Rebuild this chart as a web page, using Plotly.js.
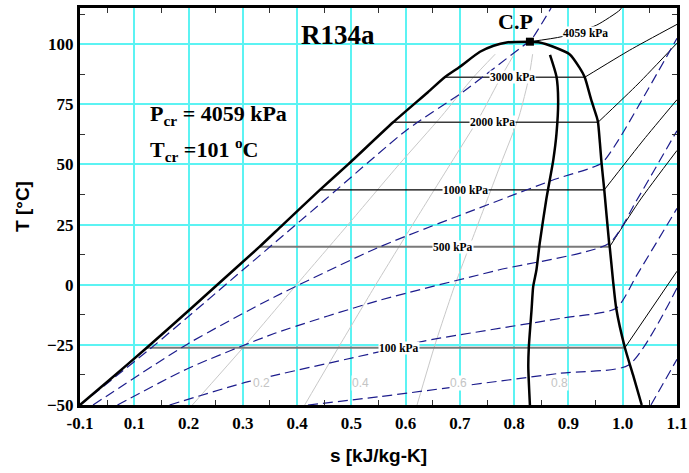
<!DOCTYPE html>
<html>
<head>
<meta charset="utf-8">
<script src="https://cdn.plot.ly/plotly-3.0.1.min.js"></script>
<style>
  html, body { margin: 0; padding: 0; background: #ffffff; }
  #chart { width: 689px; height: 473px; }
</style>
</head>
<body>
<div id="chart"></div>
<script>
// ---- R134a temperature-entropy diagram: s [kJ/kg-K] vs T [°C] ----

// axis ticks
const sTickVals = [0, 0.1, 0.2, 0.3, 0.4, 0.5, 0.6, 0.7, 0.8, 0.9, 1.0, 1.1];
const sTickText = ['-0.1', '0.1', '0.2', '0.3', '0.4', '0.5', '0.6', '0.7', '0.8', '0.9', '1.0', '1.1'];
const tTickVals = [-50, -25, 0, 25, 50, 75, 100];

// saturation dome
const satLiqS = [0.000, 0.052, 0.123, 0.204, 0.253, 0.331, 0.374, 0.442, 0.494, 0.577, 0.641, 0.672, 0.700, 0.737, 0.762, 0.786, 0.829];
const satLiqT = [-50, -40, -26.2, -10, 0, 15.8, 25, 39.4, 50, 67.5, 80, 86.2, 90.6, 96.8, 99.3, 100.7, 101];
const satVapS = [0.829, 0.847, 0.872, 0.902, 0.921, 0.930, 0.942, 0.952, 0.9545, 0.958, 0.961, 0.966, 0.975, 0.976, 0.982, 0.988, 1.004, 1.019, 1.035];
const satVapT = [101, 100.7, 98.9, 95.8, 90.0, 86.2, 76.8, 69.8, 67.5, 58.8, 50.5, 39.4, 17.2, 15.8, 2.0, -9.8, -26.2, -37.5, -50];

// critical point
const critS = 0.829;
const critT = 101;
const critP = 4059;

// constant-quality lines
const qualT = [-50, -25, 0, 25, 50, 70, 86, 95.8];
const q02S = [0.207, 0.305, 0.399, 0.494, 0.588, 0.666, 0.724, 0.765];
const q04S = [0.414, 0.479, 0.545, 0.613, 0.682, 0.737, 0.775, 0.800];
const q06S = [0.621, 0.654, 0.691, 0.733, 0.775, 0.809, 0.827, 0.834];
const q08T = [-50, -34.1, -25.8, -10.5, -0.8, 6.1, 17.2, 35.2, 51.8, 62.9, 76.8, 86.4, 95.5];
const q08S = [0.829, 0.826, 0.827, 0.832, 0.835, 0.841, 0.847, 0.859, 0.872, 0.878, 0.881, 0.878, 0.866];
const qualLabels = ['0.2', '0.4', '0.6', '0.8'];
const qualLabelS = [0.335, 0.516, 0.698, 0.883];
const qualLabelT = -40.9;

// isobars inside the dome (saturation temperature, liquid / vapour entropy)
const pLabels = ['100 kPa', '500 kPa', '1000 kPa', '2000 kPa', '3000 kPa'];
const pSatT = [-26.2, 15.8, 39.4, 67.5, 86.2];
const pLiqS = [0.123, 0.331, 0.442, 0.577, 0.672];
const pVapS = [1.004, 0.976, 0.966, 0.9545, 0.930];
const pLabelS = [0.587, 0.687, 0.711, 0.760, 0.797];

// isobars in the superheated region
const sh100S = [1.004, 1.1];          const sh100T = [-26.2, 5.6];
const sh500S = [0.976, 1.032, 1.1];   const sh500T = [15.8, 35.2, 55.8];
const sh1000S = [0.966, 1.038, 1.1];  const sh1000T = [39.4, 60.1, 76.9];
const sh2000S = [0.9545, 1.028, 1.1]; const sh2000T = [67.5, 83.4, 100.4];
const sh3000S = [0.930, 1.013, 1.1];  const sh3000T = [86.2, 97.5, 108.2];
const shCritS = [0.829, 0.888, 0.952, 0.995, 1.0];
const shCritT = [101, 103.1, 107.9, 114.2, 116];

// isochores (dashed)
const vCritS = [0.000, 0.138, 0.289, 0.451, 0.602, 0.705, 0.763, 0.823, 0.829, 0.868];
const vCritT = [-50, -25, 4.0, 35.2, 64.3, 80, 90, 100.3, 101, 115];
const v1S = [0.024, 0.200, 0.359, 0.553, 0.774, 0.875, 0.961, 0.992, 1.1];
const v1T = [-50, -24.4, -5.0, 15.8, 35.2, 43.8, 50.5, 60.1, 102.4];
const v2S = [0.069, 0.200, 0.359, 0.553, 0.771, 0.975, 1.026, 1.090, 1.1];
const v2T = [-50, -34.7, -20.2, -6.4, 6.1, 17.2, 35.2, 60.1, 64.0];
const v3S = [0.165, 0.310, 0.553, 0.627, 0.885, 0.988, 1.026, 1.1];
const v3T = [-50, -40.3, -27.8, -23.7, -14.0, -9.8, 4.0, 31.7];
const v4S = [0.42, 0.553, 0.885, 1.011, 1.1];
const v4T = [-50, -46.5, -36.8, -33.4, -1.4];
const v5S = [1.052, 1.1];
const v5T = [-50, -31];

// ---- styles ----
const SERIF = 'Liberation Serif, Times New Roman, serif';
const SANS = 'Liberation Sans, Arial, sans-serif';
const NAVY = 'rgb(28,28,140)';
const CYAN = '#5cf3f3';

function line(x, y, color, width, dash) {
  return {
    x: x, y: y, type: 'scatter', mode: 'lines',
    line: { color: color, width: width, dash: dash || 'solid', shape: 'spline', smoothing: 0.6 },
    hoverinfo: 'skip', showlegend: false
  };
}

const traces = [];
// quality lines
traces.push(line(q02S, qualT, '#c8c8c8', 1));
traces.push(line(q04S, qualT, '#c8c8c8', 1));
traces.push(line(q06S, qualT, '#c8c8c8', 1));

// isobars in the two-phase region
const domeColors = ['#7a7a7a', '#7a7a7a', '#000000', '#3a3a3a', '#3a3a3a'];
const domeWidths = [2, 2, 1.2, 1.6, 1.6];
pSatT.forEach((t, i) => {
  traces.push(line([pLiqS[i], pVapS[i]], [t, t], domeColors[i], domeWidths[i]));
});

// superheated isobars
[[sh100S, sh100T], [sh500S, sh500T], [sh1000S, sh1000T], [sh2000S, sh2000T],
 [sh3000S, sh3000T], [shCritS, shCritT]].forEach(p => traces.push(line(p[0], p[1], '#000000', 1)));

// isochores
const DASH = '10px,5px';
[[vCritS, vCritT], [v1S, v1T], [v2S, v2T], [v3S, v3T], [v4S, v4T], [v5S, v5T]]
  .forEach(v => traces.push(line(v[0], v[1], NAVY, 1.2, DASH)));

// saturation dome and x = 0.8 line
traces.push(line(satLiqS, satLiqT, '#000000', 2.5));
traces.push(line(satVapS, satVapT, '#000000', 2.5));
traces.push(line(q08S, q08T, '#000000', 2.5));

// critical point marker
traces.push({
  x: [critS], y: [critT], type: 'scatter', mode: 'markers',
  marker: { symbol: 'square', size: 8, color: '#000000' },
  hoverinfo: 'skip', showlegend: false
});

// ---- annotations ----
const annotations = [];
function note(text, x, y, font, extra) {
  annotations.push(Object.assign({
    x: x, y: y, xref: 'x', yref: 'y', text: text, showarrow: false,
    font: font, xanchor: 'center', yanchor: 'middle'
  }, extra || {}));
}
const kpaFont = { family: SERIF, size: 11.5, color: '#000000', weight: 'bold' };
pLabels.forEach((lab, i) => {
  note(lab, pLabelS[i], pSatT[i], kpaFont, { bgcolor: '#ffffff', borderpad: 0 });
});
note(critP + ' kPa', 0.9305, 104.6, kpaFont, { bgcolor: '#ffffff', borderpad: 0 });

qualLabels.forEach((lab, i) => {
  note(lab, qualLabelS[i], qualLabelT, { family: SANS, size: 12, color: '#c4c4c4' },
       { bgcolor: '#ffffff', borderpad: 0 });
});

note('R134a', 0.4745, 103.8, { family: SERIF, size: 27, color: '#000000', weight: 'bold' });
note('C.P', 0.8027, 109.5, { family: SERIF, size: 22, color: '#000000', weight: 'bold' });
note('P<sub>cr</sub> = ' + critP + ' kPa', 0.125, 70.5,
     { family: SERIF, size: 22, color: '#000000', weight: 'bold' }, { xanchor: 'left' });
note('T<sub>cr</sub> =' + critT + ' <sup>o</sup>C', 0.125, 56.0,
     { family: SERIF, size: 22, color: '#000000', weight: 'bold' }, { xanchor: 'left' });

const tickFont = { family: SERIF, size: 17, color: '#000000', weight: 'bold' };

const layout = {
  width: 689, height: 473,
  margin: { l: 80, r: 12, t: 8, b: 68, pad: 0 },
  paper_bgcolor: '#ffffff', plot_bgcolor: '#ffffff',
  showlegend: false,
  xaxis: {
    range: [0, 1.1], tickvals: sTickVals, ticktext: sTickText,
    showgrid: true, gridcolor: CYAN, gridwidth: 2, zeroline: false,
    showline: true, linecolor: '#000000', linewidth: 3, mirror: 'allticks',
    ticks: '', tickfont: tickFont, ticklabelstandoff: 1,
    minor: { ticks: 'inside', tick0: 0.05, dtick: 0.1, ticklen: 5, tickwidth: 1, tickcolor: '#333333', showgrid: false },
    title: { text: 's [kJ/kg-K]', font: { family: SANS, size: 19, color: '#000000', weight: 'bold' }, standoff: 17 },
    automargin: false
  },
  yaxis: {
    range: [-50, 115], tickvals: tTickVals,
    showgrid: true, gridcolor: CYAN, gridwidth: 2, zeroline: false,
    showline: true, linecolor: '#000000', linewidth: 3, mirror: 'allticks',
    ticks: '', tickfont: tickFont, ticklabelstandoff: 0,
    minor: { ticks: 'inside', tick0: -37.5, dtick: 25, ticklen: 5, tickwidth: 1, tickcolor: '#333333', showgrid: false },
    title: { text: 'T [°C]', font: { family: SANS, size: 19, color: '#000000', weight: 'bold' }, standoff: 13 },
    automargin: false
  },
  annotations: annotations
};

Plotly.newPlot('chart', traces, layout, { displayModeBar: false, staticPlot: true });
</script>
</body>
</html>
